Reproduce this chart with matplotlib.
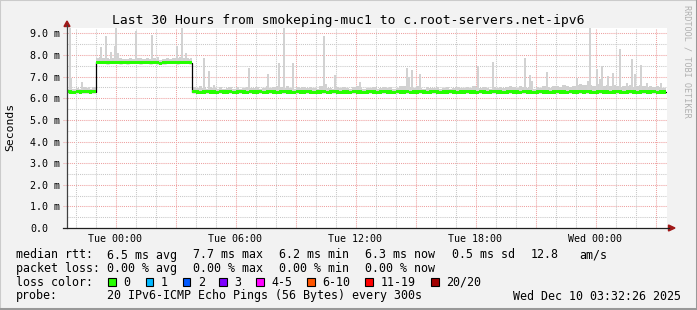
import numpy as np
import matplotlib.pyplot as plt
from matplotlib.patches import Rectangle, Polygon
from matplotlib.lines import Line2D

# time axis in hours relative to Tue 00:00, 10 minute steps from Mon 21:30
t_start = -2.5
step = 1 / 6

# median rtt in ms, one value per 10 minutes (12 per row = 2 hours)
median = [
    6.30, 6.29, 6.28, 6.30, 6.29, 6.31, 6.30, 6.29, 6.30, 7.66, 7.67, 7.66,
    7.65, 7.67, 7.66, 7.67, 7.65, 7.66, 7.64, 7.67, 7.66, 7.66, 7.65, 7.67,
    7.66, 7.65, 7.67, 7.64, 7.63, 7.65, 7.66, 7.67, 7.66, 7.65, 7.67, 7.66,
    7.66, 7.65, 6.30, 6.29, 6.28, 6.29, 6.30, 6.29, 6.29, 6.28, 6.30, 6.29,
    6.29, 6.30, 6.28, 6.29, 6.30, 6.29, 6.28, 6.30, 6.29, 6.29, 6.30, 6.28,
    6.29, 6.30, 6.29, 6.28, 6.29, 6.30, 6.29, 6.29, 6.28, 6.30, 6.29, 6.29,
    6.30, 6.29, 6.28, 6.29, 6.29, 6.30, 6.28, 6.29, 6.30, 6.29, 6.28, 6.29,
    6.29, 6.28, 6.30, 6.29, 6.29, 6.28, 6.29, 6.30, 6.29, 6.28, 6.29, 6.30,
    6.29, 6.29, 6.28, 6.30, 6.29, 6.29, 6.30, 6.28, 6.29, 6.29, 6.30, 6.29,
    6.28, 6.29, 6.30, 6.29, 6.28, 6.29, 6.29, 6.30, 6.29, 6.28, 6.29, 6.29,
    6.30, 6.29, 6.29, 6.28, 6.30, 6.29, 6.28, 6.29, 6.30, 6.29, 6.29, 6.28,
    6.29, 6.30, 6.29, 6.29, 6.28, 6.30, 6.29, 6.29, 6.28, 6.29, 6.30, 6.29,
    6.29, 6.28, 6.29, 6.30, 6.29, 6.29, 6.28, 6.30, 6.29, 6.29, 6.30, 6.29,
    6.30, 6.29, 6.28, 6.29, 6.30, 6.29, 6.29, 6.28, 6.29, 6.30, 6.29, 6.28,
    6.29, 6.30, 6.29, 6.28, 6.29, 6.30, 6.29, 6.29, 6.30, 6.28, 6.29, 6.29,
]

# upper edge of the dense smoke band (ms)
smoke_hi = [
    6.45, 6.52, 6.44, 6.48, 6.43, 6.50, 6.47, 6.45, 6.52, 7.86, 7.90, 7.84,
    7.88, 7.82, 7.85, 7.92, 7.84, 7.80, 7.83, 7.86, 7.81, 7.84, 7.88, 7.82,
    7.85, 7.80, 7.84, 7.79, 7.78, 7.83, 7.86, 7.82, 7.88, 7.85, 7.90, 7.84,
    7.86, 7.83, 6.50, 6.46, 6.55, 6.48, 6.44, 6.52, 6.47, 6.45, 6.50, 6.43,
    6.48, 6.52, 6.45, 6.50, 6.44, 6.47, 6.53, 6.46, 6.49, 6.52, 6.44, 6.48,
    6.55, 6.47, 6.50, 6.58, 6.52, 6.46, 6.55, 6.49, 6.45, 6.51, 6.47, 6.50,
    6.46, 6.52, 6.48, 6.45, 6.58, 6.55, 6.49, 6.47, 6.44, 6.50, 6.46, 6.52,
    6.48, 6.45, 6.50, 6.55, 6.47, 6.44, 6.49, 6.46, 6.52, 6.45, 6.48, 6.50,
    6.47, 6.52, 6.45, 6.49, 6.55, 6.58, 6.60, 6.52, 6.48, 6.55, 6.47, 6.45,
    6.50, 6.46, 6.48, 6.52, 6.45, 6.47, 6.50, 6.44, 6.48, 6.51, 6.46, 6.49,
    6.52, 6.47, 6.55, 6.50, 6.46, 6.53, 6.49, 6.45, 6.50, 6.47, 6.52, 6.48,
    6.50, 6.55, 6.52, 6.48, 6.56, 6.53, 6.47, 6.50, 6.45, 6.52, 6.48, 6.55,
    6.52, 6.48, 6.55, 6.57, 6.53, 6.60, 6.55, 6.50, 6.58, 6.62, 6.65, 6.60,
    6.62, 6.60, 6.58, 6.64, 6.60, 6.55, 6.62, 6.58, 6.60, 6.55, 6.53, 6.57,
    6.55, 6.60, 6.52, 6.58, 6.62, 6.55, 6.50, 6.57, 6.53, 6.55, 6.50, 6.48,
]

# single slow pings (smoke spikes): time in hours, max rtt in ms
spike_t = [-2.29, -2.23, -1.66, -1.33, -0.90, -0.71, -0.46, -0.24, -0.04, 0.04,
           0.14, 0.59, 1.01, 1.26, 1.81, 2.13, 3.09, 3.34, 3.51, 3.76,
           4.43, 4.68, 4.93, 6.69, 7.61, 8.19, 8.44, 8.86, 10.44, 10.53,
           10.98, 12.23, 14.56, 14.65, 14.81, 15.23, 18.14, 18.89, 20.48, 20.73,
           20.83, 21.56, 23.06, 23.63, 23.73, 24.06, 24.23, 24.31, 24.64, 24.86,
           25.23, 25.56, 25.81, 25.98, 26.28, 26.56, 27.28]
spike_top = [9.3, 6.93, 6.76, 6.50, 7.88, 8.35, 8.89, 8.12, 8.43, 9.3,
             8.10, 7.81, 9.1, 7.80, 8.92, 7.90, 8.43, 9.3, 8.10, 7.87,
             7.88, 7.27, 6.60, 7.38, 7.11, 7.61, 9.3, 7.61, 8.86, 6.65,
             7.07, 6.76, 7.38, 7.00, 7.31, 7.11, 7.47, 7.69, 7.84, 7.07,
             6.80, 7.22, 6.96, 6.80, 9.3, 7.35, 6.90, 7.50, 7.04, 7.19,
             8.30, 6.70, 7.81, 7.10, 7.55, 6.70, 6.70]

y_ticks = [0, 1, 2, 3, 4, 5, 6, 7, 8, 9]
y_labels = ['0.0', '1.0 m', '2.0 m', '3.0 m', '4.0 m', '5.0 m', '6.0 m', '7.0 m', '8.0 m', '9.0 m']
x_ticks = [0, 6, 12, 18, 24]
x_labels = ['Tue 00:00', 'Tue 06:00', 'Tue 12:00', 'Tue 18:00', 'Wed 00:00']

loss_names = ['0', '1', '2', '3', '4-5', '6-10', '11-19', '20/20']
loss_colors = ['#26ff00', '#00b8ff', '#0059ff', '#7e00ff', '#ff00ff', '#ff5500', '#ff0000', '#a10000']

W, H = 697, 310
mono = 'DejaVu Sans Mono'
plt.rcParams['font.family'] = mono


def fx(x):
    return x / W


def fy(y):
    return 1 - y / H


fig = plt.figure(figsize=(W / 100, H / 100), dpi=100, facecolor='#f2f2f2')
ax = fig.add_axes([fx(67), fy(228), 600 / W, 200 / H])
ax.set_facecolor('white')
x0, x1 = -2.425, 27.575
ax.set_xlim(x0, x1)
ax.set_ylim(0, 9.25)
for s in ax.spines.values():
    s.set_visible(False)

# grid
dots = (0, (1, 1))
for v in np.arange(0.5, 9.25, 0.5):
    major = abs(v - round(v)) < 1e-6
    ax.hlines(v, x0 - (0.2 if major else 0), x1, colors='#eea0a0' if major else '#c8c8c8',
              lw=0.75, linestyles=dots, zorder=1, clip_on=False)
for h in range(-2, 28):
    major = h % 3 == 0
    ax.vlines(h, 0, 9.25, colors='#eea0a0' if major else '#c8c8c8',
              lw=0.75, linestyles=dots, zorder=1)

# smoke
med = np.array(median)
hi = np.array(smoke_hi)
t_edges = t_start + np.arange(len(med) + 1) * step
ax.fill_between(t_edges, np.append(med, med[-1]), np.append(hi, hi[-1]),
                step='post', color='#d0d0d0', lw=0, zorder=2)
st = np.array(spike_t)
idx = np.clip(((st - t_start) / step).astype(int), 0, len(med) - 1)
base = med[idx]
ax.bar(st, np.array(spike_top) - base, bottom=base, width=6 / 60,
       color='#d2d2d2', lw=0, zorder=2)

# median: black line plus loss-coloured band
ax.plot(t_edges, np.append(med, med[-1]), drawstyle='steps-post', color='black', lw=0.9, zorder=3)
ax.fill_between(t_edges, np.append(med, med[-1]) - 0.07, np.append(med, med[-1]) + 0.07,
                step='post', color=loss_colors[0], lw=0, zorder=4)

# ticks
ax.set_yticks(y_ticks)
ax.set_yticklabels(y_labels, fontsize=7.2)
ax.set_xticks(x_ticks)
ax.set_xticklabels(x_labels, fontsize=7.2)
ax.tick_params(axis='both', length=0)
ax.tick_params(axis='y', pad=26.6)
ax.tick_params(axis='x', pad=4)
for lab in ax.get_yticklabels():
    lab.set_horizontalalignment('left')

# axes with arrows
fig.add_artist(Line2D([fx(67), fx(67)], [fy(228), fy(25)], color='#404040', lw=0.9))
fig.add_artist(Line2D([fx(63), fx(669)], [fy(228), fy(228)], color='#202020', lw=0.9))
fig.add_artist(Polygon([(fx(67), fy(21)), (fx(64), fy(26.5)), (fx(70), fy(26.5))],
                       closed=True, color='#a01818', transform=fig.transFigure))
fig.add_artist(Polygon([(fx(675), fy(228)), (fx(668.5), fy(225)), (fx(668.5), fy(231))],
                       closed=True, color='#a01818', transform=fig.transFigure))

# title and side texts
fig.text(0.5, fy(24), 'Last 30 Hours from smokeping-muc1 to c.root-servers.net-ipv6',
         ha='center', va='baseline', fontsize=9.4)
fig.text(fx(10), fy(127), 'Seconds', rotation=90, ha='center', va='center', fontsize=8.2)
fig.text(fx(687), fy(5), 'RRDTOOL / TOBI OETIKER', rotation=270, ha='center', va='top',
         fontsize=6.1, color='#b0b0b0')

# legend block
fs = 8.4
rows = [258.5, 272, 285.8, 299.5]
fig.text(fx(16), fy(rows[0]), 'median rtt:', fontsize=fs, va='baseline')
for x, s in zip([107.3, 193.3, 279.3, 365.3, 451.7, 530.3, 579.3],
                ['6.5 ms avg', '7.7 ms max', '6.2 ms min', '6.3 ms now', '0.5 ms sd', '12.8', 'am/s']):
    fig.text(fx(x), fy(rows[0]), s, fontsize=fs, va='baseline')
fig.text(fx(16), fy(rows[1]), 'packet loss:', fontsize=fs, va='baseline')
for x, s in zip([107.3, 193.3, 279.3, 365.3],
                ['0.00 % avg', '0.00 % max', '0.00 % min', '0.00 % now']):
    fig.text(fx(x), fy(rows[1]), s, fontsize=fs, va='baseline')
fig.text(fx(16), fy(rows[2]), 'loss color:', fontsize=fs, va='baseline')
box_x = [108.3, 145.7, 182.7, 219, 256, 307.3, 365.3, 431]
for bx, name, col in zip(box_x, loss_names, loss_colors):
    fig.add_artist(Rectangle((fx(bx), fy(286)), 7.7 / W, 7.7 / H, facecolor=col,
                             edgecolor='black', lw=0.8, transform=fig.transFigure))
    fig.text(fx(bx + 15), fy(rows[2]), name, fontsize=fs, va='baseline')
fig.text(fx(16), fy(rows[3]), 'probe:', fontsize=fs, va='baseline')
fig.text(fx(107.3), fy(rows[3]), '20 IPv6-ICMP Echo Pings (56 Bytes) every 300s', fontsize=fs, va='baseline')
fig.text(fx(513.3), fy(rows[3]), 'Wed Dec 10 03:32:26 2025', fontsize=fs, va='baseline')

# 3d frame
fig.add_artist(Line2D([0, 0, 1], [0, 1, 1], color='#cbcbcb', lw=1.5, transform=fig.transFigure))
fig.add_artist(Line2D([0, 1, 1], [0.002, 0.002, 1], color='#999999', lw=2.2, transform=fig.transFigure))

fig.savefig('out.png', dpi=100, facecolor=fig.get_facecolor())
